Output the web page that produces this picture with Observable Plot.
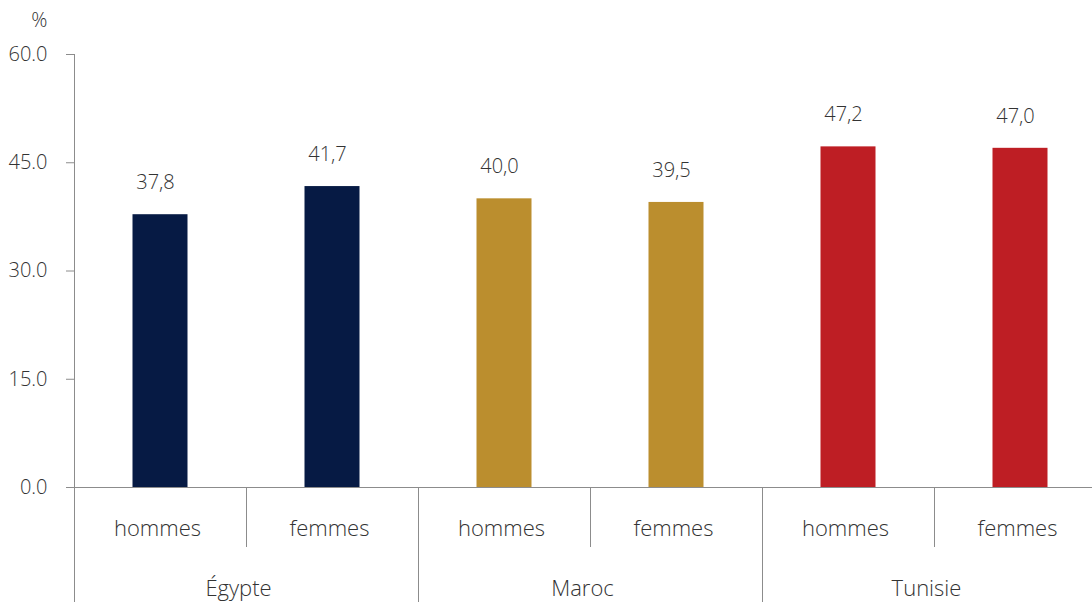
<!DOCTYPE html>
<html>
<head>
<meta charset="utf-8">
<script src="https://cdn.jsdelivr.net/npm/d3@7"></script>
<script src="https://cdn.jsdelivr.net/npm/@observablehq/plot@0.6"></script>
<style>
  html, body { margin: 0; padding: 0; background: #fff; }
</style>
</head>
<body>
<div id="chart"></div>
<script>
const countries = ["Égypte", "Maroc", "Tunisie"];
const sexes = ["hommes", "femmes"];
const values = [37.8, 41.7, 40.0, 39.5, 47.2, 47.0];
const colors = ["#061a44", "#bb8e2e", "#be1e24"];
const yTicks = [0, 15, 30, 45, 60];

const data = values.map((v, i) => {
  const country = countries[Math.floor(i / 2)];
  const sex = sexes[i % 2];
  return { country, sex, key: country + "|" + sex, value: v };
});
const keys = data.map(d => d.key);

const W = 1092, ML = 74;
const step = 172;
const xRange = [ML, ML + step * keys.length];
const axisColor = "#8c8c8c";
const textColor = "#333333";
const font = "'Open Sans', 'Noto Sans', sans-serif";

const chart = Plot.plot({
  width: W,
  height: 602,
  marginLeft: ML,
  marginRight: 0,
  marginTop: 54,
  marginBottom: 115,
  style: { fontFamily: font, fontSize: "20px", color: textColor, fontWeight: 300, background: "#fff", overflow: "hidden" },
  x: { type: "band", domain: keys, padding: 0, range: xRange, round: false, axis: null },
  y: { domain: [0, 60], label: null, axis: null },
  color: { domain: countries, range: colors },
  marks: [
    Plot.axisY({ ticks: yTicks, tickSize: 8, tickPadding: 19, tickFormat: d => d.toFixed(1), stroke: axisColor, fill: textColor, label: null, fontSize: 20 }),
    Plot.frame({ anchor: "left", stroke: axisColor }),
    Plot.barY(data, { x: "key", y: "value", fill: "country", insetLeft: 58.5, insetRight: 58.5 }),
    Plot.ruleY([0], { stroke: axisColor }),
    Plot.text(data, { x: "key", y: "value", text: d => d.value.toFixed(1).replace(".", ","), dy: -32, dx: -5, fill: textColor, fontSize: 20 }),
    Plot.text(data, { x: "key", text: "sex", frameAnchor: "bottom", dy: 48, dx: -3, fill: textColor, fontSize: 22 }),
    Plot.text(data.filter(d => d.sex === "hommes"), { x: "key", text: "country", frameAnchor: "bottom", dy: 108, dx: step / 2 - 8, fill: textColor, fontSize: 22 }),
    Plot.axisX(data.filter(d => d.sex === "hommes").map(d => d.key), { tickSize: 115, dx: -step / 2, tickFormat: () => "", stroke: axisColor, label: null }),
    Plot.axisX(data.filter(d => d.sex === "femmes").map(d => d.key), { tickSize: 60, dx: -step / 2, tickFormat: () => "", stroke: axisColor, label: null }),
    Plot.text(["%"], { frameAnchor: "top-left", dx: -27, dy: -42, textAnchor: "end", fill: textColor, fontSize: 20 })
  ]
});
document.getElementById("chart").appendChild(chart);
</script>
</body>
</html>
